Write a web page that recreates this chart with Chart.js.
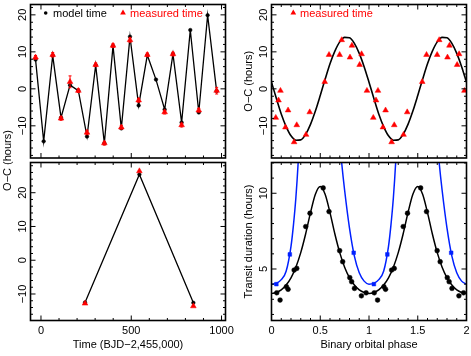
<!DOCTYPE html>
<html>
<head>
<meta charset="utf-8">
<script src="https://cdn.jsdelivr.net/npm/chart.js@4.4.1/dist/chart.umd.min.js"></script>
<style>
  html, body { margin: 0; padding: 0; background: #fff; }
  #wrap { position: relative; width: 471px; height: 356px; overflow: hidden; }
  #wrap canvas { position: absolute; left: 0; top: 0; }
</style>
</head>
<body>
<div id="wrap">
  <canvas id="tl" width="471" height="356"></canvas>
  <canvas id="bl" width="471" height="356"></canvas>
  <canvas id="tr" width="471" height="356"></canvas>
  <canvas id="br" width="471" height="356"></canvas>
</div>
<script>
// ---- values ----

// top left: O-C of the transits (hours) against time
const transitTime = [-30, 15, 65, 111, 161, 207, 255, 303, 351, 399, 445, 493, 541, 589, 637, 685, 731, 779, 827, 874, 923, 973];
const modelOC = [7.9, -14.2, 9.0, -7.8, 1.0, -0.5, -12.9, 6.4, -14.7, 11.6, -10.7, 14.1, -4.5, 9.1, 2.5, -5.6, 9.4, -9.1, 15.9, -6.4, 19.9, -0.6];
const measuredOC = [8.5, null, 9.2, -8.0, 1.9, -0.5, -11.8, 6.5, -14.7, 11.7, -10.4, 13.2, -3.1, 9.2, null, -6.3, 9.4, -9.8, null, -5.8, null, -0.5];
const measuredErr = [0.5, null, 0.6, 0.5, 1.6, 0.5, 0.6, 0.5, 0.5, 0.5, 0.5, 0.6, 0.5, 0.5, null, 0.5, 0.5, 0.5, null, 0.5, null, 0.9];

// bottom left: second planet
const secondTime = [244, 545, 844];
const secondModelOC = [-12.5, 25.4, -12.6];
const secondMeasuredOC = [-12.8, 26.4, -13.6];

// top right: O-C folded on the binary phase
const foldPhase = [0.044, 0.072, 0.092, 0.143, 0.170, 0.232, 0.259, 0.354, 0.392, 0.546, 0.590, 0.699, 0.720, 0.805, 0.825, 0.904, 0.924, 0.979];
const foldOC = [-7.8, -3.1, -0.5, -10.4, -5.8, -14.4, -9.8, -12.4, -6.3, 1.9, 9.2, 9.2, 13.2, 8.5, 11.7, 6.5, 9.4, -0.5];
const curvePhase = [0, 0.05, 0.10, 0.15, 0.20, 0.25, 0.30, 0.35, 0.40, 0.45, 0.50, 0.55, 0.60, 0.65, 0.70, 0.75, 0.80, 0.85, 0.90, 0.95];
const curveOC = [1.8, -2.6, -6.8, -10.2, -12.7, -13.9, -13.8, -12.3, -9.6, -6.0, -1.8, 2.6, 6.8, 10.2, 12.7, 13.9, 13.8, 12.3, 9.6, 6.0];

// bottom right: transit duration (hours) against binary phase
const durPhase = [0.054, 0.088, 0.153, 0.170, 0.232, 0.259, 0.351, 0.395, 0.530, 0.590, 0.699, 0.730, 0.803, 0.822, 0.851, 0.922, 0.970];
const durHours = [3.43, 2.95, 3.83, 3.66, 4.93, 5.04, 7.80, 8.68, 10.35, 8.79, 6.21, 5.48, 4.43, 4.16, 3.72, 3.23, 3.43];
const durCurve = [3.39, 3.45, 3.62, 3.94, 4.42, 5.12, 6.08, 7.31, 8.72, 9.94, 10.45, 9.94, 8.72, 7.31, 6.08, 5.12, 4.42, 3.94, 3.62, 3.45];
const bluePhase = [0, 0.05, 0.10, 0.15, 0.20, 0.225, 0.25, 0.275, 0.30, 0.70, 0.72, 0.75, 0.80, 0.85, 0.90, 0.95];
const blueCurve = [4.0, 4.05, 4.3, 4.85, 6.5, 7.9, 9.7, 12.2, 15.5, 13.5, 12.0, 10.2, 7.7, 5.85, 4.75, 4.2];
const blueObsPhase = [0.05, 0.188, 0.843];
const blueObsHours = [4.0, 5.96, 6.07];

// tick labels
const timeTicks = [0, 500, 1000];
const phaseTicks = [0, 0.5, 1, 1.5, 2];
const ocTicks = [-10, 0, 10, 20];
const durTicks = [5, 10];

// ---- drawing ----
const W = 471, H = 356;
const RED = '#ff0000', BLUE = '#0020ff', BLACK = '#000000';
const FONT = '11px "Liberation Sans", Arial, Helvetica, sans-serif';

const pts = (xs, ys) => xs.map((x, i) => ({ x, y: ys[i] }));

// phase-folded things are shown twice, at phase and phase + 1
function twoCycles(xs, ys, close) {
  const out = [];
  [0, 1].forEach(k => xs.forEach((x, i) => out.push({ x: x + k, y: ys[i] })));
  if (close) out.push({ x: 2, y: ys[0] });
  return out;
}

const fmt = v => (v < 0 ? '\u2212' + Math.abs(v) : String(v));

function vtext(ctx, s, x, y) {
  ctx.save();
  ctx.translate(x, y);
  ctx.rotate(-Math.PI / 2);
  ctx.textAlign = 'center';
  ctx.textBaseline = 'alphabetic';
  ctx.fillText(s, 0, 0);
  ctx.restore();
}

function ticksAlong(scale, [major, minor], fn) {
  const n0 = Math.ceil(scale.min / minor - 1e-6), n1 = Math.floor(scale.max / minor + 1e-6);
  for (let n = n0; n <= n1; n++) {
    const r = n * minor / major;
    fn(scale.getPixelForValue(n * minor), Math.abs(r - Math.round(r)) < 1e-6 ? 5 : 2.5);
  }
}

function dot(ctx, x, y, r, c) {
  ctx.fillStyle = c;
  ctx.beginPath(); ctx.arc(x, y, r, 0, Math.PI * 2); ctx.fill();
}
function tri(ctx, x, y, r, c) {
  ctx.fillStyle = c;
  ctx.beginPath();
  ctx.moveTo(x, y - r); ctx.lineTo(x + 0.866 * r, y + 0.5 * r); ctx.lineTo(x - 0.866 * r, y + 0.5 * r);
  ctx.closePath(); ctx.fill();
}

function frame(p) {
  return {
    id: 'frame',
    afterDatasetsDraw(chart) {
      if (!p.errors) return;
      const { ctx, scales: { x, y } } = chart;
      const [xs, ys, es] = p.errors;
      ctx.save();
      ctx.strokeStyle = RED; ctx.lineWidth = 1;
      ctx.beginPath();
      xs.forEach((t, i) => {
        if (ys[i] == null) return;
        const px = x.getPixelForValue(t);
        const lo = y.getPixelForValue(ys[i] - es[i]), hi = y.getPixelForValue(ys[i] + es[i]);
        ctx.moveTo(px, lo); ctx.lineTo(px, hi);
        ctx.moveTo(px - 1.5, lo); ctx.lineTo(px + 1.5, lo);
        ctx.moveTo(px - 1.5, hi); ctx.lineTo(px + 1.5, hi);
      });
      ctx.stroke();
      ctx.restore();
    },
    afterDraw(chart) {
      const { ctx, chartArea: a, scales: { x, y } } = chart;
      ctx.save();
      ctx.strokeStyle = BLACK;
      ctx.lineWidth = 1;
      ctx.beginPath();
      ticksAlong(x, p.xStep, (px, len) => {
        ctx.moveTo(px, a.bottom); ctx.lineTo(px, a.bottom - len);
        ctx.moveTo(px, a.top); ctx.lineTo(px, a.top + len);
      });
      ticksAlong(y, p.yStep, (py, len) => {
        ctx.moveTo(a.left, py); ctx.lineTo(a.left + len, py);
        ctx.moveTo(a.right, py); ctx.lineTo(a.right - len, py);
      });
      ctx.stroke();
      ctx.lineWidth = 1.6;
      ctx.strokeRect(a.left, a.top, a.right - a.left, a.bottom - a.top);

      ctx.fillStyle = BLACK;
      ctx.font = FONT;
      ctx.textAlign = 'center';
      ctx.textBaseline = 'alphabetic';
      if (p.xTicks) p.xTicks.forEach(v => ctx.fillText(fmt(v), x.getPixelForValue(v), 334));
      if (p.xTitle) ctx.fillText(p.xTitle, (a.left + a.right) / 2, 348);
      if (p.yTicks) p.yTicks.forEach(v => vtext(ctx, fmt(v), a.left - 4.5, y.getPixelForValue(v)));
      if (p.yTitle) vtext(ctx, p.yTitle[0], a.left - 20, p.yTitle[1] || (a.top + a.bottom) / 2);
      if (p.legend) p.legend(ctx);
      ctx.restore();
    }
  };
}

function panel(id, p, datasets) {
  return new Chart(document.getElementById(id), {
    type: 'scatter',
    data: { datasets },
    options: {
      responsive: false,
      animation: false,
      devicePixelRatio: 1,
      events: [],
      layout: { padding: { left: p.box[0], top: p.box[1], right: W - p.box[2], bottom: H - p.box[3] } },
      plugins: { legend: { display: false }, tooltip: { enabled: false } },
      scales: {
        x: { type: 'linear', display: false, min: p.x[0], max: p.x[1] },
        y: { type: 'linear', display: false, min: p.y[0], max: p.y[1] }
      }
    },
    plugins: [frame(p)]
  });
}

const markers = (data, style, color, r) => ({
  data, showLine: false, pointStyle: style, pointRadius: r,
  pointBackgroundColor: color, pointBorderColor: color, pointBorderWidth: 0.5
});
const curve = (data, color, w) => ({
  data, showLine: true, pointRadius: 0, borderColor: color, borderWidth: w,
  cubicInterpolationMode: 'monotone'
});

// top left
panel('tl', {
  box: [30.5, 1, 225.5, 158], x: [-58, 1022], y: [-18.7, 22.8],
  xStep: [500, 100], yStep: [10, 2], yTicks: ocTicks,
  yTitle: ['O\u2212C (hours)', 160.5],
  errors: [transitTime, measuredOC, measuredErr],
  legend(ctx) {
    dot(ctx, 45.7, 13, 1.8, BLACK);
    ctx.textAlign = 'left';
    ctx.fillStyle = BLACK;
    ctx.fillText('model time', 53, 17);
    tri(ctx, 123, 12.8, 3.3, RED);
    ctx.fillStyle = RED;
    ctx.fillText('measured time', 130, 17);
  }
}, [
  markers(pts(transitTime, measuredOC), 'triangle', RED, 3.3),
  Object.assign(markers(pts(transitTime, modelOC), 'circle', BLACK, 1.8),
    { showLine: true, borderColor: BLACK, borderWidth: 1.3 })
]);

// bottom left
panel('bl', {
  box: [30.5, 162.5, 225.5, 320.5], x: [-58, 1022], y: [-17.85, 28.95],
  xStep: [500, 100], yStep: [10, 2], xTicks: timeTicks, yTicks: ocTicks,
  xTitle: 'Time (BJD\u22122,455,000)'
}, [
  markers(pts(secondTime, secondMeasuredOC), 'triangle', RED, 3.3),
  Object.assign(markers(pts(secondTime, secondModelOC), 'circle', BLACK, 1.8),
    { showLine: true, borderColor: BLACK, borderWidth: 1.3 })
]);

// top right
panel('tr', {
  box: [271.5, 1, 467, 158], x: [0, 2], y: [-18.7, 22.8],
  xStep: [0.5, 0.1], yStep: [10, 2], yTicks: ocTicks,
  yTitle: ['O\u2212C (hours)'],
  legend(ctx) {
    tri(ctx, 293.3, 12.8, 3.3, RED);
    ctx.textAlign = 'left';
    ctx.fillStyle = RED;
    ctx.fillText('measured time', 300, 17);
  }
}, [
  markers(twoCycles(foldPhase, foldOC), 'triangle', RED, 3.3),
  curve(twoCycles(curvePhase, curveOC, true), BLACK, 1.6)
]);

// bottom right
panel('br', {
  box: [271.5, 162.5, 467, 320.5], x: [0, 2], y: [1.6, 12.03],
  xStep: [0.5, 0.1], yStep: [5, 1], xTicks: phaseTicks, yTicks: durTicks,
  xTitle: 'Binary orbital phase', yTitle: ['Transit duration (hours)']
}, [
  markers(twoCycles(durPhase, durHours), 'circle', BLACK, 2.4),
  markers(twoCycles(blueObsPhase, blueObsHours), 'rect', BLUE, 2.6),
  curve(twoCycles(curvePhase, durCurve, true), BLACK, 1.5),
  curve(twoCycles(bluePhase, blueCurve, true), BLUE, 1.5)
]);
</script>
</body>
</html>
